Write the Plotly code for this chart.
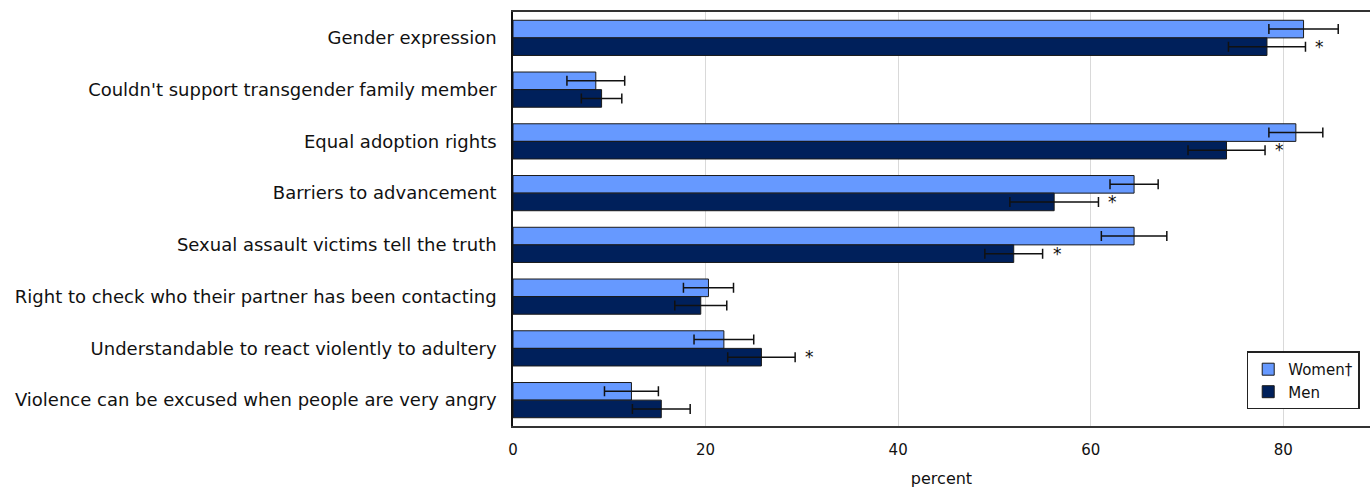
import plotly.graph_objects as go

categories = [
    "Gender expression",
    "Couldn't support transgender family member",
    "Equal adoption rights",
    "Barriers to advancement",
    "Sexual assault victims tell the truth",
    "Right to check who their partner has been contacting",
    "Understandable to react violently to adultery",
    "Violence can be excused when people are very angry",
]
women = [82.1, 8.6, 81.3, 64.5, 64.5, 20.3, 21.9, 12.3]
women_err = [3.6, 3.0, 2.8, 2.5, 3.4, 2.6, 3.1, 2.8]
men = [78.3, 9.2, 74.1, 56.2, 52.0, 19.5, 25.8, 15.4]
men_err = [4.0, 2.1, 4.0, 4.6, 3.0, 2.7, 3.5, 3.0]
significant = [True, False, True, True, True, False, True, False]
x_ticks = [0, 20, 40, 60, 80]

FONT = "DejaVu Sans"

fig = go.Figure()
fig.add_trace(go.Bar(
    name="Women†", y=categories, x=women, orientation="h",
    marker=dict(color="#6699FF", line=dict(color="#1a1a1a", width=1)),
    error_x=dict(type="data", array=women_err, color="#111111", thickness=1.5, width=5),
))
fig.add_trace(go.Bar(
    name="Men", y=categories, x=men, orientation="h",
    marker=dict(color="#00205B", line=dict(color="#1a1a1a", width=1)),
    error_x=dict(type="data", array=men_err, color="#111111", thickness=1.5, width=5),
))

# asterisks beside the men's bars that differ significantly from women
annotations = []
for cat, v, e, sig in zip(categories, men, men_err, significant):
    if sig:
        annotations.append(dict(
            x=v + e, y=cat, xref="x", yref="y", text="*", showarrow=False,
            xanchor="left", xshift=8, yshift=-9,
            font=dict(family=FONT, size=17, color="#111111"),
        ))

fig.update_layout(
    width=1370, height=488,
    margin=dict(l=513, r=0, t=12, b=62, autoexpand=False),
    paper_bgcolor="white", plot_bgcolor="white",
    barmode="group", bargap=0.32, bargroupgap=0.0,
    font=dict(family=FONT, size=15, color="#111111"),
    showlegend=True,
    legend=dict(
        x=0.988, y=0.04, xanchor="right", yanchor="bottom",
        bgcolor="white", bordercolor="#222222", borderwidth=1.5,
        font=dict(family=FONT, size=15, color="#111111"),
        traceorder="normal", itemwidth=30, tracegroupgap=2,
    ),
    annotations=annotations,
    xaxis=dict(
        range=[0, 89], tickvals=x_ticks, ticktext=[str(t) for t in x_ticks],
        showgrid=True, gridcolor="#D9D9D9", gridwidth=1,
        zeroline=False, showline=True, linecolor="#333333", linewidth=2, mirror=True,
        ticks="", ticklabelstandoff=9, automargin=False,
        tickfont=dict(family=FONT, size=15, color="#111111"),
        title=dict(text="percent", font=dict(family=FONT, size=16, color="#111111"), standoff=23),
    ),
    yaxis=dict(
        categoryorder="array", categoryarray=categories, autorange="reversed",
        showgrid=False, showline=True, linecolor="#111111", linewidth=1.5,
        ticks="", ticklabelstandoff=11, automargin=False,
        tickfont=dict(family=FONT, size=18, color="#111111"),
    ),
)

fig.write_html("out.html")
